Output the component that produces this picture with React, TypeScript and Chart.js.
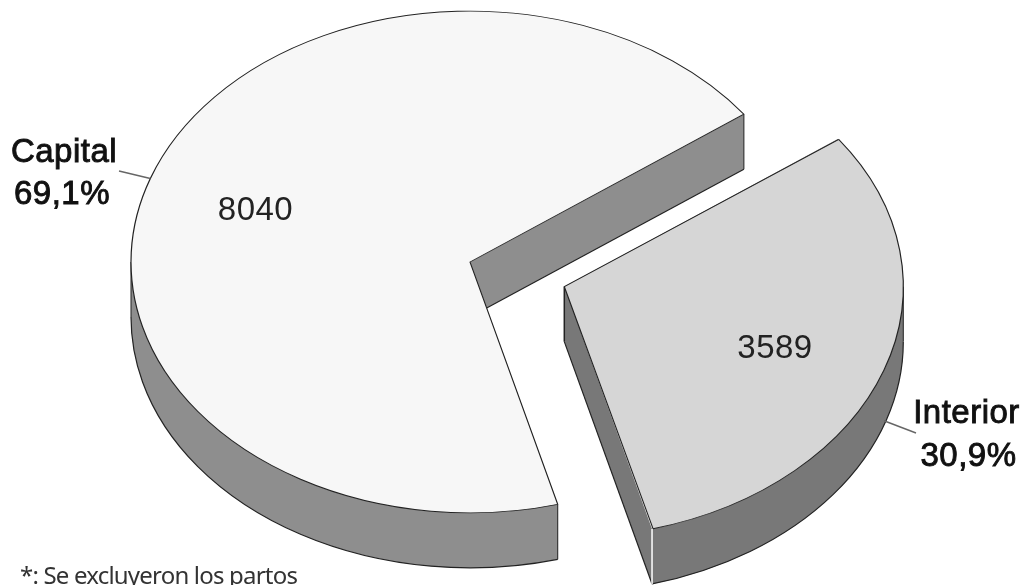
import React, { useEffect, useRef } from "react";
import { Chart, registerables } from "chart.js";

Chart.register(...registerables);

const categories = ["Capital", "Interior"];
const values = [8040, 3589];
const percentLabels = ["69,1%", "30,9%"];
const footnote = "*: Se excluyeron los partos";
const topColors = ["#f7f7f7", "#d6d6d6"];
const wallColors = ["#8e8e8e", "#787878"];

const RADIUS = 339;
const SQUASH = 0.74;
const DEPTH = 55;
const EXPLODE = 100;
const EDGE = "#222222";

const applySquash = (ctx: CanvasRenderingContext2D, cy: number, dy: number) => {
  ctx.translate(0, cy + dy);
  ctx.scale(1, SQUASH);
  ctx.translate(0, -cy);
};

const centerOf = (arc: any, explode: number) => {
  const mid = (arc.startAngle + arc.endAngle) / 2;
  return {
    x: arc.x + Math.cos(mid) * explode,
    y: arc.y + SQUASH * Math.sin(mid) * explode,
  };
};

const rimPoint = (arc: any, angle: number, explode: number) => {
  const c = centerOf(arc, explode);
  return {
    x: c.x + Math.cos(angle) * RADIUS,
    y: c.y + SQUASH * Math.sin(angle) * RADIUS,
  };
};

// Angles of the part of the rim that faces the viewer, inside [start, end].
const frontSpan = (arc: any): [number, number] | null => {
  const TAU = Math.PI * 2;
  for (let k = -2; k <= 2; k++) {
    const lo = Math.max(arc.startAngle, k * TAU);
    const hi = Math.min(arc.endAngle, k * TAU + Math.PI);
    if (hi > lo) return [lo, hi];
  }
  return null;
};

const pie3d = {
  id: "pie3d",
  afterDatasetsUpdate(chart: any) {
    chart.getDatasetMeta(0).data.forEach((arc: any, i: number) => {
      if (i === 1) {
        const fix = 1 - Math.sin(Math.min(Math.PI, arc.circumference));
        arc.outerRadius = RADIUS - EXPLODE * fix;
      }
    });
  },
  beforeDatasetsDraw(chart: any) {
    const ctx: CanvasRenderingContext2D = chart.ctx;
    const arcs = chart.getDatasetMeta(0).data;
    arcs.forEach((arc: any, i: number) => {
      const explode = i === 1 ? EXPLODE : 0;
      const c = centerOf(arc, explode);
      const start = rimPoint(arc, arc.startAngle, explode);
      const end = rimPoint(arc, arc.endAngle, explode);
      const span = frontSpan(arc);
      const ry = RADIUS * SQUASH;

      ctx.fillStyle = wallColors[i];
      // walls along both straight edges
      [start, end].forEach((p) => {
        ctx.beginPath();
        ctx.moveTo(c.x, c.y);
        ctx.lineTo(p.x, p.y);
        ctx.lineTo(p.x, p.y + DEPTH);
        ctx.lineTo(c.x, c.y + DEPTH);
        ctx.closePath();
        ctx.fill();
      });
      // wall along the front of the rim
      if (span) {
        ctx.beginPath();
        ctx.ellipse(c.x, c.y, RADIUS, ry, 0, span[0], span[1]);
        ctx.ellipse(c.x, c.y + DEPTH, RADIUS, ry, 0, span[1], span[0], true);
        ctx.closePath();
        ctx.fill();
      }

      // silhouette of the underside
      ctx.strokeStyle = EDGE;
      ctx.lineWidth = 1.2;
      if (span) {
        ctx.beginPath();
        ctx.ellipse(c.x, c.y + DEPTH, RADIUS, ry, 0, span[0], span[1]);
        ctx.stroke();
      }
      ctx.beginPath();
      ctx.moveTo(c.x, c.y + DEPTH);
      ctx.lineTo(end.x, end.y + DEPTH);
      ctx.stroke();

      const verticals: [any, string, number][] =
        i === 0
          ? [[start, EDGE, 1], [end, EDGE, 1]]
          : [[c, EDGE, 1.5], [end, "#ffffff", 1.5]];
      if (span) {
        // the side of the drum, where the rim turns from front to back
        verticals.push([rimPoint(arc, i === 0 ? span[1] : span[0], explode), EDGE, 1]);
      }
      verticals.forEach(([p, color, width]) => {
        ctx.beginPath();
        ctx.moveTo(p.x, p.y);
        ctx.lineTo(p.x, p.y + DEPTH);
        ctx.strokeStyle = color;
        ctx.lineWidth = width;
        ctx.stroke();
      });
    });
    ctx.save();
    applySquash(ctx, arcs[0].y, 0);
  },
  afterDatasetsDraw(chart: any) {
    const ctx: CanvasRenderingContext2D = chart.ctx;
    ctx.restore();
    const arcs = chart.getDatasetMeta(0).data;

    // leader lines start on the rim at each slice's mid angle
    const leaderEnds = [{ x: 119, y: 171 }, { x: 916, y: 433 }];
    arcs.forEach((arc: any, i: number) => {
      const mid = (arc.startAngle + arc.endAngle) / 2;
      const p = rimPoint(arc, mid, i === 1 ? EXPLODE : 0);
      ctx.beginPath();
      ctx.moveTo(p.x, p.y + (i === 1 ? DEPTH * 0.92 : 0));
      ctx.lineTo(leaderEnds[i].x, leaderEnds[i].y);
      ctx.strokeStyle = "#666666";
      ctx.lineWidth = 1.4;
      ctx.stroke();
    });

    ctx.textBaseline = "alphabetic";
    ctx.textAlign = "center";
    ctx.fillStyle = "#222222";
    ctx.font = '33px "Liberation Sans"';
    (ctx as any).letterSpacing = "0.5px";
    ctx.fillText(String(values[0]), 255.5, 220);
    ctx.fillText(String(values[1]), 775, 358);

    ctx.fillStyle = "#111111";
    ctx.strokeStyle = "#111111";
    ctx.lineWidth = 0.9;
    const outlined = (text: string, x: number, y: number) => {
      ctx.fillText(text, x, y);
      ctx.strokeText(text, x, y);
    };
    outlined(categories[0], 64, 162);
    outlined(percentLabels[0], 62, 204);
    outlined(categories[1], 966.5, 423);
    outlined(percentLabels[1], 968.5, 466);

    (ctx as any).letterSpacing = "-0.8px";
    ctx.textAlign = "left";
    ctx.fillStyle = "#333333";
    ctx.font = '24px "Noto Sans"';
    ctx.fillText(footnote, 20, 584);
  },
};

export default function App() {
  const ref = useRef<HTMLCanvasElement>(null);
  useEffect(() => {
    const chart = new Chart(ref.current!, {
      type: "pie",
      data: {
        labels: categories,
        datasets: [
          {
            data: values,
            backgroundColor: topColors,
            borderColor: EDGE,
            borderWidth: 1.2,
            offset: [0, EXPLODE * 4],
            clip: false,
          } as any,
        ],
      },
      options: {
        responsive: false,
        animation: false,
        rotation: 165,
        radius: RADIUS,
        layout: { padding: { left: 0, top: 0, right: 82, bottom: 61 } },
        plugins: { legend: { display: false }, tooltip: { enabled: false } },
      } as any,
      plugins: [pie3d],
    });
    return () => chart.destroy();
  }, []);
  return (
    <canvas
      ref={ref}
      width={1022}
      height={585}
      style={{ position: "fixed", left: 0, top: 0, width: 1022, height: 585, background: "#ffffff" }}
    />
  );
}
